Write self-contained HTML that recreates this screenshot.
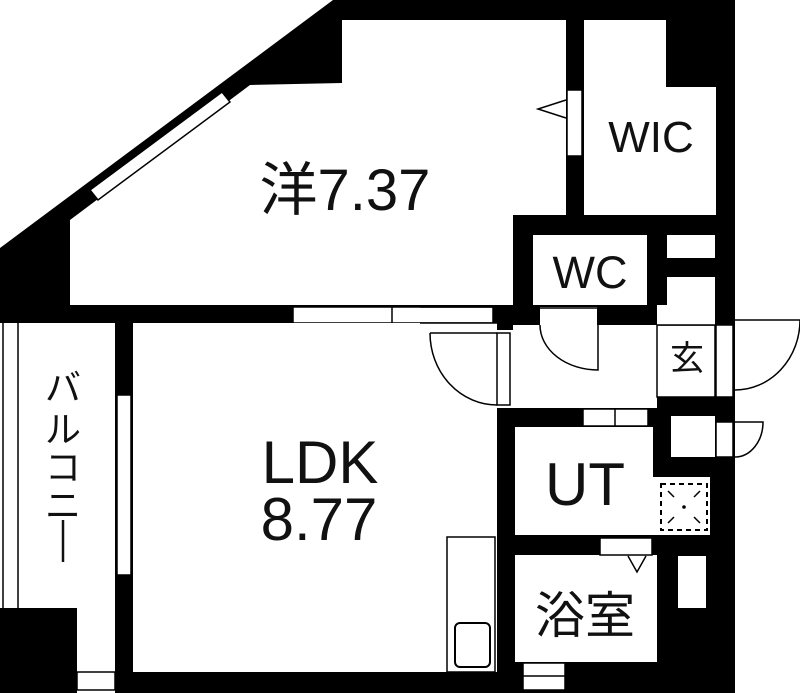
<!DOCTYPE html>
<html><head><meta charset="utf-8"><style>
html,body{margin:0;padding:0;background:#fff;}
svg{display:block}
text{font-family:"Liberation Sans","Noto Sans CJK JP",sans-serif;fill:#111;}
</style></head><body>
<svg width="800" height="693" viewBox="0 0 800 693" xmlns="http://www.w3.org/2000/svg">
<polygon points="333,0 735,0 735,693 0,693 0,248" fill="#000"/>
<rect x="0" y="323" width="115" height="285" fill="#fff"/>
<rect x="77" y="600" width="38" height="93" fill="#fff"/>
<rect x="0" y="608" width="77" height="85" fill="#000"/>
<line x1="3" y1="323" x2="3" y2="608" stroke="#000" stroke-width="1.5"/>
<line x1="18" y1="323" x2="18" y2="608" stroke="#000" stroke-width="1.5"/>
<rect x="77" y="672" width="38" height="18" fill="#fff" stroke="#000" stroke-width="1.5"/>
<polygon points="70,220 250,85 342,83 342,20 566,20 566,215 513,215 513,305 70,305" fill="#fff"/>
<polygon points="90,190 222,92 230,102 98,200" fill="#fff" stroke="#000" stroke-width="1.5"/>
<polygon points="584,20 666,20 666,87 716,87 716,215 584,215" fill="#fff"/>
<rect x="567" y="90" width="15" height="66" fill="#fff" stroke="#000" stroke-width="1.5"/>
<polyline points="566,100 538,109 566,118" fill="none" stroke="#000" stroke-width="1.5"/>
<rect x="533" y="235" width="114" height="70" fill="#fff"/>
<rect x="667" y="235" width="48" height="23" fill="#fff"/>
<rect x="667" y="277" width="48" height="48" fill="#fff"/>
<rect x="293" y="307" width="200" height="16" fill="#fff" stroke="#000" stroke-width="1.5"/>
<line x1="392" y1="307" x2="392" y2="323" stroke="#000" stroke-width="1.5"/>
<rect x="133" y="323" width="364" height="349" fill="#fff"/>
<rect x="117" y="395" width="14" height="180" fill="#fff" stroke="#000" stroke-width="1.5"/>
<rect x="513" y="325" width="144" height="83" fill="#fff"/>
<rect x="497" y="330" width="16" height="78" fill="#fff"/>
<rect x="540" y="307" width="57" height="18" fill="#fff"/>
<rect x="657" y="325" width="58" height="72" fill="#fff" stroke="#000" stroke-width="1.5"/>
<rect x="657" y="305" width="58" height="20" fill="#fff"/>
<line x1="657" y1="325" x2="715" y2="325" stroke="#000" stroke-width="1.5"/>
<rect x="497" y="333" width="13" height="72" fill="#fff" stroke="#000" stroke-width="1.5"/>
<path d="M430,333 L497,333 M430,333 A67,72 0 0 0 497,405" fill="none" stroke="#000" stroke-width="1.5"/>
<line x1="420" y1="307" x2="497" y2="307" stroke="#000" stroke-width="1.5"/>
<line x1="420" y1="323" x2="497" y2="323" stroke="#000" stroke-width="1.5"/>
<path d="M540,325 A58,45 0 0 0 598,370 L598,325" fill="none" stroke="#000" stroke-width="1.5"/>
<line x1="540" y1="308" x2="597" y2="308" stroke="#000" stroke-width="1.5"/>
<rect x="716" y="325" width="17" height="72" fill="#fff" stroke="#000" stroke-width="1.5"/>
<path d="M735,320 L800,320 A65,70 0 0 1 735,390" fill="none" stroke="#000" stroke-width="1.5"/>
<rect x="515" y="427" width="138" height="108" fill="#fff"/>
<rect x="653" y="477" width="57" height="58" fill="#fff"/>
<rect x="583" y="409" width="65" height="17" fill="#fff" stroke="#000" stroke-width="1.5"/>
<line x1="615" y1="409" x2="615" y2="426" stroke="#000" stroke-width="1.5"/>
<rect x="661" y="484" width="46" height="46" fill="none" stroke="#000" stroke-width="2" stroke-dasharray="5,4"/>
<path d="M668,491 l6,6 M700,491 l-6,6 M668,523 l6,-6 M700,523 l-6,-6" stroke="#000" stroke-width="1.5"/>
<circle cx="684" cy="507" r="1.8" fill="#000"/>
<rect x="671" y="416" width="44" height="41" fill="#fff"/>
<rect x="716" y="422" width="17" height="35" fill="#fff" stroke="#000" stroke-width="1.5"/>
<path d="M735,422 L763,422 A28,35 0 0 1 735,457" fill="none" stroke="#000" stroke-width="1.5"/>
<rect x="447" y="537" width="48" height="135" fill="#fff" stroke="#000" stroke-width="1.5"/>
<rect x="455" y="623" width="35" height="44" rx="5" fill="#fff" stroke="#000" stroke-width="2"/>
<rect x="515" y="555" width="142" height="107" fill="#fff"/>
<rect x="600" y="538" width="52" height="17" fill="#fff" stroke="#000" stroke-width="1.5"/>
<polyline points="628,556 637,572 646,556" fill="none" stroke="#000" stroke-width="1.5"/>
<rect x="678" y="556" width="28" height="52" fill="#fff"/>
<rect x="523" y="663" width="42" height="27" fill="#fff" stroke="#000" stroke-width="1.5"/>
<line x1="523" y1="676" x2="565" y2="676" stroke="#000" stroke-width="1.5"/>
<text x="345" y="210" font-size="58" text-anchor="middle">洋7.37</text>
<text x="651" y="152" font-size="44" text-anchor="middle">WIC</text>
<text x="590" y="288" font-size="45" text-anchor="middle">WC</text>
<text x="687" y="370" font-size="34" text-anchor="middle">玄</text>
<text x="320" y="483" font-size="60" text-anchor="middle">LDK</text>
<text x="319" y="540" font-size="60" text-anchor="middle">8.77</text>
<text x="585" y="505" font-size="60" text-anchor="middle">UT</text>
<text x="585" y="633" font-size="50" text-anchor="middle">浴室</text>
<text x="63" y="400" font-size="36" text-anchor="middle">バ</text>
<text x="63" y="442" font-size="36" text-anchor="middle">ル</text>
<text x="63" y="480" font-size="36" text-anchor="middle">コ</text>
<text x="63" y="518" font-size="36" text-anchor="middle">ニ</text>
<line x1="63" y1="520" x2="63" y2="562" stroke="#111" stroke-width="2.5"/>
</svg>
</body></html>
